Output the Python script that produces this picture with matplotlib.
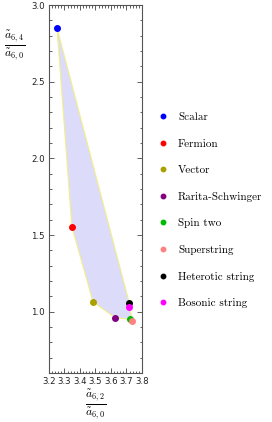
import matplotlib
matplotlib.use("Agg")
import matplotlib.pyplot as plt
import numpy as np
from matplotlib.ticker import MultipleLocator
from matplotlib.patches import Polygon

plt.rcParams['mathtext.fontset'] = 'cm'

names = ["Scalar", "Fermion", "Vector", "Rarita-Schwinger", "Spin two",
         "Superstring", "Heterotic string", "Bosonic string"]
ratio_62 = [3.252, 3.348, 3.484, 3.626, 3.723, 3.737, 3.718, 3.718]
ratio_64 = [2.850, 1.554, 1.065, 0.961, 0.950, 0.937, 1.057, 1.031]
colors = ["#0000ff", "#ff0000", "#aaa000", "#800080", "#00bb00",
          "#ff8080", "#000000", "#ff00ff"]

# hull of the allowed region (order of the outline)
hull = [0, 1, 2, 3, 4, 5, 6]

fig = plt.figure(figsize=(2.72, 4.22), dpi=100)
ax = fig.add_axes([0.180, 0.116, 0.342, 0.872])

pts = np.array([[ratio_62[i], ratio_64[i]] for i in hull])
ax.add_patch(Polygon(pts, closed=True, facecolor="#dcdcfa",
                     edgecolor="#f2ee8a", linewidth=0.8, zorder=1))

for x, y, c, n in zip(ratio_62, ratio_64, colors, names):
    ax.plot(x, y, 'o', color=c, markersize=4, label=n, zorder=3)

ax.set_xlim(3.2, 3.8)
ax.set_ylim(0.6, 3.0)
ax.xaxis.set_major_locator(MultipleLocator(0.1))
ax.xaxis.set_minor_locator(MultipleLocator(0.02))
ax.yaxis.set_major_locator(MultipleLocator(0.5))
ax.yaxis.set_minor_locator(MultipleLocator(0.1))
ax.tick_params(which='both', direction='in', top=True, right=True,
               labelsize=6.2, colors='#444444', width=0.6, pad=3)
ax.tick_params(which='major', length=3.5)
ax.tick_params(which='minor', length=1.8)
ax.xaxis.set_major_formatter(matplotlib.ticker.FormatStrFormatter('%.1f'))
ax.yaxis.set_major_formatter(matplotlib.ticker.FormatStrFormatter('%.1f'))
for tl in ax.get_xticklabels() + ax.get_yticklabels():
    tl.set_color('#222222')
for s in ax.spines.values():
    s.set_color('#555555')
    s.set_linewidth(0.8)

fig.text(0.35, 0.043, r'$\frac{\tilde{a}_{6,2}}{\tilde{a}_{6,0}}$',
         fontsize=12, ha='center', va='center')
fig.text(0.055, 0.893, r'$\frac{\tilde{a}_{6,4}}{\tilde{a}_{6,0}}$',
         fontsize=12, ha='center', va='center')

leg = ax.legend(loc='upper left', bbox_to_anchor=(0.56, 0.747),
                bbox_transform=fig.transFigure, frameon=False,
                prop={'family': 'cmr10', 'size': 8}, handlelength=1.0,
                handletextpad=0.8, labelspacing=1.5, markerscale=0.8,
                borderpad=0)

fig.savefig('out.png', dpi=100)
